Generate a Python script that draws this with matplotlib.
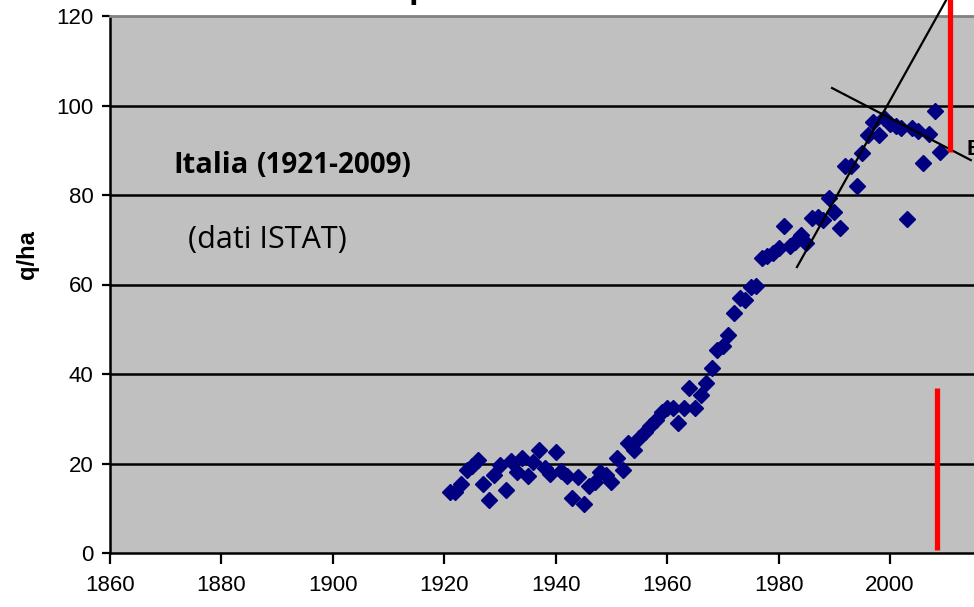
import matplotlib
matplotlib.use("Agg")
import matplotlib.pyplot as plt
import numpy as np

years = list(range(1921, 2010))
yields = [13.6, 13.6, 15.4, 18.5, 19.4, 20.8, 15.4, 11.8, 17.4, 19.7,
          14.0, 20.6, 18.1, 21.2, 17.2, 20.3, 23.0, 19.0, 17.7, 22.6,
          18.3, 17.2, 12.3, 17.0, 11.0, 15.0, 15.9, 18.1, 17.4, 15.9,
          21.2, 18.5, 24.6, 23.0, 25.7, 27.0, 28.4, 29.7, 31.5, 32.4,
          32.4, 29.0, 32.4, 36.9, 32.4, 35.3, 38.0, 41.3, 45.4, 46.3,
          48.7, 53.6, 57.0, 56.5, 59.4, 59.7, 65.9, 66.4, 67.0, 68.2,
          73.0, 68.6, 69.5, 71.0, 69.3, 74.9, 75.1, 74.4, 79.3, 76.2,
          72.6, 86.5, 86.5, 82.0, 89.4, 93.4, 96.3, 93.4, 97.2, 95.9,
          95.4, 95.0, 74.6, 95.0, 94.3, 87.2, 93.6, 98.8, 89.6]

trend_up_x = [1983.3, 2011.0]
trend_up_y = [63.9, 125.6]
trend_down_x = [1989.6, 2014.5]
trend_down_y = [103.9, 87.8]
red1_x = [2010.8, 2010.8]
red1_y = [89.6, 126.0]
red2_x = [2008.5, 2008.5]
red2_y = [0.7, 36.9]

xticks = [1860, 1880, 1900, 1920, 1940, 1960, 1980, 2000]
yticks = [0, 20, 40, 60, 80, 100, 120]

W, H = 974, 607
fig = plt.figure(figsize=(W / 100, H / 100), dpi=100)
fig.patch.set_facecolor("white")
left = 110 / W
bottom = (H - 553) / H
top = (H - 16) / H
xmin, xmax = 1860, 2020
px_per_year = (890 - 110) / 140.0
width = (xmax - xmin) * px_per_year / W
ax = fig.add_axes([left, bottom, width, top - bottom])
ax.set_facecolor("#C0C0C0")
ax.set_xlim(xmin, xmax)
ax.set_ylim(0, 120)

for yv in yticks[1:-1]:
    ax.axhline(yv, color="black", lw=1.8, zorder=1)

ax.plot(years, yields, linestyle="none", marker="D", ms=8.5,
        color="#000080", mec="#000080", zorder=3)

ax.plot(trend_up_x, trend_up_y, color="black", lw=1.6, zorder=4, clip_on=False)
ax.plot(trend_down_x, trend_down_y, color="black", lw=1.6, zorder=4, clip_on=False)
ax.plot(red1_x, red1_y, color="#FF0000", lw=3.8, zorder=5, clip_on=False,
        solid_capstyle="butt")
ax.plot(red2_x, red2_y, color="#FF0000", lw=3.8, zorder=5, clip_on=False,
        solid_capstyle="butt")

ax.spines["right"].set_visible(False)
ax.spines["top"].set_color("#808080")
ax.spines["top"].set_linewidth(2)
ax.spines["left"].set_color("black")
ax.spines["left"].set_linewidth(1.8)
ax.spines["bottom"].set_color("black")
ax.spines["bottom"].set_linewidth(1.8)

ax.set_xticks(xticks)
ax.set_yticks(yticks)
ax.set_xticklabels([str(t) for t in xticks])
ax.set_yticklabels([str(t) for t in yticks])
ax.tick_params(axis="both", direction="out", length=6, width=1.6,
               labelsize=16, colors="black")
ax.tick_params(axis="x", pad=8, length=8)
ax.tick_params(axis="y", pad=6)
for lab in ax.get_xticklabels() + ax.get_yticklabels():
    lab.set_family(["Liberation Sans", "DejaVu Sans"])

fig.text(28 / W, (H - 255) / H, "q/ha", fontsize=17, fontweight="bold",
         family=["Liberation Sans", "DejaVu Sans"], rotation=90,
         va="center", ha="center")

fig.text(173 / W, (H - 173) / H, "Italia", fontsize=21, fontweight="bold",
         family=["Open Sans", "DejaVu Sans"], va="baseline", ha="left")
fig.text(257 / W, (H - 173) / H, "(1921-2009)", fontsize=20, fontweight="bold",
         family=["Open Sans", "DejaVu Sans"], va="baseline", ha="left")
fig.text(188 / W, (H - 240) / H, "(dati ISTAT)", fontsize=22,
         family=["Open Sans", "DejaVu Sans"], va="center", ha="left")

fig.text(398 / W, (H + 2) / H, "q/ha", fontsize=24, fontweight="bold",
         family=["Liberation Sans", "DejaVu Sans"], va="baseline", ha="left")
fig.text(967 / W, (H - 155) / H, "E", fontsize=16, fontweight="bold",
         family=["Liberation Sans", "DejaVu Sans"], va="baseline", ha="left")

fig.savefig("out.png", dpi=100)
